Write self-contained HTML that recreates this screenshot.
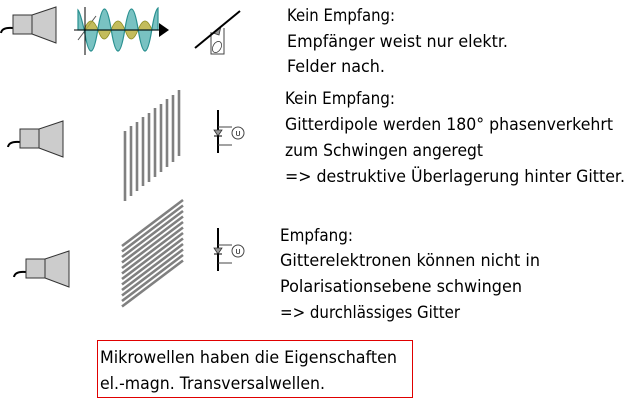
<!DOCTYPE html>
<html><head><meta charset="utf-8"><style>
html,body{margin:0;padding:0;background:#fff;}
svg{display:block;}
text{font-family:"DejaVu Sans","Liberation Sans",sans-serif;font-size:16.5px;fill:#000;}
</style></head><body>
<svg width="625" height="401" viewBox="0 0 625 401" xmlns="http://www.w3.org/2000/svg">
<defs>
<g id="horn">
<path d="M0,18 Q1,12 12,13" fill="none" stroke="#000" stroke-width="2"/>
<rect x="12" y="0" width="19" height="19" fill="#ccc" stroke="#333" stroke-width="1"/>
<path d="M31,0 L55,-8 L55,28 L31,19 Z" fill="#ccc" stroke="#333" stroke-width="1"/>
</g>
<g id="rx">
<line x1="0" y1="0" x2="0" y2="43" stroke="#000" stroke-width="2"/>
<path d="M0,17 L14,17 M0,35 L14,35" fill="none" stroke="#444" stroke-width="1"/>
<circle cx="20" cy="23" r="6" fill="#fff" stroke="#444" stroke-width="1"/>
<text x="17.5" y="26" style="font-size:7px">U</text>
<path d="M-4,20 L4,20 L0,26 Z" fill="#999" stroke="#333" stroke-width="0.8"/>
<line x1="-4" y1="26" x2="4" y2="26" stroke="#000" stroke-width="1"/>
</g>
</defs>
<use href="#horn" x="1" y="15"/>
<use href="#horn" x="8" y="129"/>
<use href="#horn" x="14" y="259"/>

<!-- wave -->
<path d="M78,40 L96,16" stroke="#555" stroke-width="1"/>
<path d="M84,30 Q91,12 98,30 Q104,48 111,30 Q118,12 125,30 Q131,48 138,30 Q145,12 152,30 Z" fill="#b8b040" fill-opacity="0.85" stroke="#8a8a20" stroke-width="0.8"/>
<path d="M78,30 L78,10 Q80,12 84.25,30 Q91,72 97.75,30 Q104.5,-12 111.25,30 Q118,72 124.75,30 Q131.5,-12 138.25,30 Q145,72 151.75,30 Q155,10 158,8 L158,30 Z" fill="#40a8a8" fill-opacity="0.7" stroke="#2a9090" stroke-width="1.2"/>
<line x1="85" y1="7" x2="85" y2="55" stroke="#000" stroke-width="1"/>
<line x1="74" y1="30" x2="160" y2="30" stroke="#000" stroke-width="1"/>
<path d="M159,23 L169,30 L159,37 Z" fill="#000"/>

<!-- receiver 1 -->
<path d="M211,32 L211,54 L224,54 L224,28" fill="none" stroke="#444" stroke-width="1"/>
<ellipse cx="217" cy="47" rx="4" ry="6" transform="rotate(30 217 47)" fill="none" stroke="#444" stroke-width="0.8"/>
<path d="M213,33 L221,26 L219,35 Z" fill="#999" stroke="#333" stroke-width="0.8"/>
<line x1="195" y1="48" x2="240" y2="11" stroke="#000" stroke-width="2"/>

<!-- grating 1 vertical -->
<g stroke="#808080" stroke-width="2.6">
<line x1="125" y1="131" x2="125" y2="201"/>
<line x1="131" y1="126" x2="131" y2="196"/>
<line x1="137" y1="122" x2="137" y2="191"/>
<line x1="143" y1="117" x2="143" y2="186"/>
<line x1="149" y1="113" x2="149" y2="182"/>
<line x1="155" y1="108" x2="155" y2="177"/>
<line x1="161" y1="104" x2="161" y2="172"/>
<line x1="167" y1="99" x2="167" y2="167"/>
<line x1="173" y1="95" x2="173" y2="162"/>
<line x1="179" y1="90" x2="179" y2="156"/>
</g>
<!-- grating 2 -->
<g stroke="#808080" stroke-width="2.6">
<line x1="122" y1="246" x2="183" y2="200"/>
<line x1="122" y1="251.5" x2="183" y2="205.5"/>
<line x1="122" y1="257" x2="183" y2="211"/>
<line x1="122" y1="262.5" x2="183" y2="216.5"/>
<line x1="122" y1="268" x2="183" y2="222"/>
<line x1="122" y1="273.5" x2="183" y2="227.5"/>
<line x1="122" y1="279" x2="183" y2="233"/>
<line x1="122" y1="284.5" x2="183" y2="238.5"/>
<line x1="122" y1="290" x2="183" y2="244"/>
<line x1="122" y1="295.5" x2="183" y2="249.5"/>
<line x1="122" y1="301" x2="183" y2="255"/>
<line x1="122" y1="306.5" x2="183" y2="260.5"/>
</g>

<use href="#rx" x="218" y="110"/>
<use href="#rx" x="218" y="228"/>

<!-- text -->
<text x="287" y="21" textLength="108" lengthAdjust="spacingAndGlyphs">Kein Empfang:</text>
<text x="287" y="47" textLength="221" lengthAdjust="spacingAndGlyphs">Empfänger weist nur elektr.</text>
<text x="287" y="72" textLength="98" lengthAdjust="spacingAndGlyphs">Felder nach.</text>

<text x="285" y="104" textLength="110" lengthAdjust="spacingAndGlyphs">Kein Empfang:</text>
<text x="285" y="130" textLength="328" lengthAdjust="spacingAndGlyphs">Gitterdipole werden 180° phasenverkehrt</text>
<text x="285" y="156" textLength="198" lengthAdjust="spacingAndGlyphs">zum Schwingen angeregt</text>
<text x="285" y="182" textLength="340" lengthAdjust="spacingAndGlyphs">=&gt; destruktive Überlagerung hinter Gitter.</text>

<text x="280" y="241" textLength="73" lengthAdjust="spacingAndGlyphs">Empfang:</text>
<text x="280" y="266" textLength="260" lengthAdjust="spacingAndGlyphs">Gitterelektronen können nicht in</text>
<text x="280" y="292" textLength="242" lengthAdjust="spacingAndGlyphs">Polarisationsebene schwingen</text>
<text x="280" y="318" textLength="180" lengthAdjust="spacingAndGlyphs">=&gt; durchlässiges Gitter</text>

<rect x="97.5" y="340.5" width="315" height="57" fill="none" stroke="#e00000" stroke-width="1"/>
<text x="100" y="363" textLength="297" lengthAdjust="spacingAndGlyphs">Mikrowellen haben die Eigenschaften</text>
<text x="100" y="389" textLength="225" lengthAdjust="spacingAndGlyphs">el.-magn. Transversalwellen.</text>
</svg>
</body></html>
